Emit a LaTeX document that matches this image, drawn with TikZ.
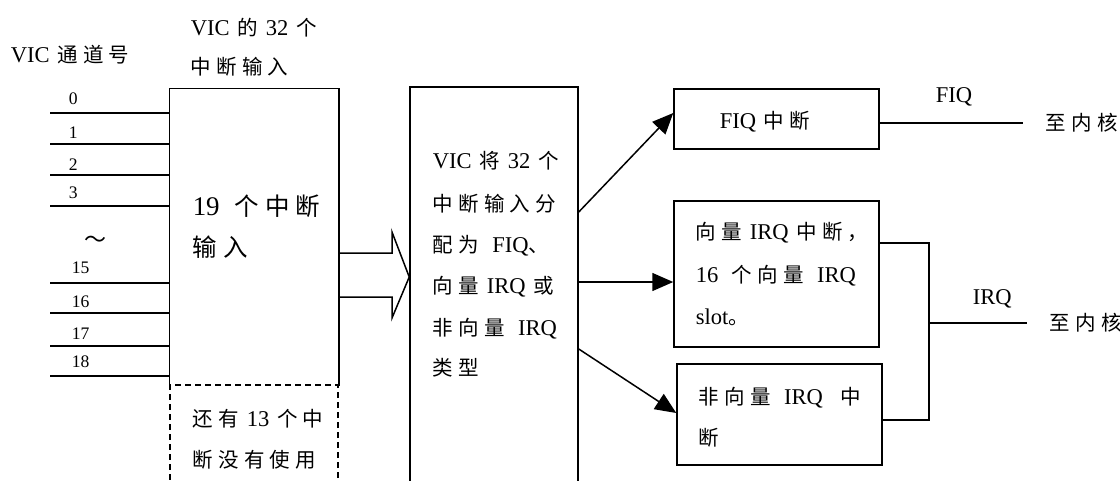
\documentclass[tikz,border=0pt]{standalone}
\usepackage{fontspec}
\setmainfont{Liberation Serif}[Scale=1.1]
\newfontfamily\cjk{Noto Sans CJK SC}[LetterSpace=25]
\newcommand\gp{\hspace{0.35em}}
\usetikzlibrary{arrows.meta,calc}
\begin{document}
\begin{tikzpicture}[x=1pt,y=-1pt, line width=1.5pt,
  lbl/.style={inner sep=0, anchor=west, font=\fontsize{20.5}{24}\selectfont},
  num/.style={inner sep=0, anchor=west, font=\fontsize{16}{20}\selectfont},
  big/.style={inner sep=0, anchor=west, font=\fontsize{24.5}{28}\selectfont},
  arr/.style={-{Triangle[length=21pt,width=18pt]}},
  boxs/.style={inner sep=0, line width=1.5pt}]
\useasboundingbox (0,0) rectangle (1120,480);

% headings
\node[lbl] (h1) at (10,55) {VIC\gp{\cjk 通道号}};
\node[lbl] (h2) at (190,28) {VIC\gp{\cjk 的}\gp 32\gp{\cjk 个}};
\node[lbl] (h3) at (190,67) {\cjk 中断输入};

% input box (solid top/sides) and dashed unused part
\node[boxs, minimum width=168pt, minimum height=296pt] (in) at (254,237) {};
\draw (in.south west) |- (in.north east) -- (in.south east);
\node[boxs, draw, dash pattern=on 6pt off 4pt, minimum width=168pt, minimum height=115pt] (unused) at (254,442.5) {};
\node[big] (b1) at (192,206) {19\hspace{0.55em}{\cjk 个中断}};
\node[big] (b2) at (192,247) {\cjk 输入};
\node[lbl] (u1) at (192,419) {{\cjk 还有}\gp 13\gp{\cjk 个中}};
\node[lbl] (u2) at (192,460) {\cjk 断没有使用};

% input lines
\foreach \y/\n/\ly/\lx in {113/0/99/68, 144/1/133/68, 175/2/165/68, 206/3/193/68,
                           283/15/268/71, 313/16/302/71, 346/17/334/71, 376/18/362/71} {
  \coordinate (s\n) at (50,\y);
  \draw (s\n) -- (s\n -| in.west);
  \node[num] (l\n) at (\lx,\ly) {\n};
}
\node[inner sep=0, font=\fontsize{22}{24}\selectfont] (tilde) at (95,242) {\cjk ～};

% VIC assignment box
\node[boxs, draw, minimum width=168pt, minimum height=413pt] (vic) at (494,293.5) {};
\node[lbl] (v1) at (432,161) {VIC\gp{\cjk 将}\gp 32\gp{\cjk 个}};
\node[lbl] (v2) at (432,204) {\cjk 中断输入分};
\node[lbl] (v3) at (432,246) {{\cjk 配为}\hspace{0.6em}FIQ{\cjk 、}};
\node[lbl] (v4) at (432,287) {{\cjk 向量}\gp IRQ\gp{\cjk 或}};
\node[lbl] (v5) at (432,329) {{\cjk 非向量}\hspace{0.6em}IRQ};
\node[lbl] (v6) at (432,368) {\cjk 类型};

% hollow arrow
\draw (in.east |- 0,253) -- (392,253) -- (392,232) -- (vic.west |- 0,277)
      -- (392,318) -- (392,297) -- (in.east |- 0,297);

% right boxes
\node[boxs, draw, minimum width=205pt, minimum height=60pt] (fiq) at (776.5,119) {};
\node[lbl] (f1) at (719,122) {FIQ\gp{\cjk 中断}};
\node[boxs, draw, minimum width=205pt, minimum height=146pt] (vec) at (776.5,274) {};
\node[lbl] (r1) at (695,233) {{\cjk 向量}\gp IRQ\gp{\cjk 中断，}};
\node[lbl] (r2) at (695,276) {16\hspace{0.6em}{\cjk 个向量}\hspace{0.6em}IRQ};
\node[lbl] (r3) at (695,317) {slot{\cjk 。}};
\node[boxs, draw, minimum width=205pt, minimum height=101pt] (nvec) at (779.5,414.5) {};
\node[lbl] (n1) at (698,398) {{\cjk 非向量}\hspace{0.6em}IRQ\hspace{0.8em}{\cjk 中}};
\node[lbl] (n2) at (698,438) {\cjk 断};

% arrows
\draw[arr] (vic.east |- 0,212) -- (fiq.west |- 0,113);
\draw[arr] (vic.east |- 0,282) -- (vec.west |- 0,282);
\draw[arr] (vic.east |- 0,349) -- (nvec.west |- 0,413);

% outputs
\coordinate (fiqout) at (1023,123);
\draw (fiq.east |- fiqout) -- (fiqout);
\node[lbl] (fl) at (935,97) {FIQ};
\node[lbl] (k1) at (1045,123) {\cjk 至内核};

\coordinate (j) at (929,323);
\draw (vec.east |- 0,243) -- (j |- 0,243) -- (j |- 0,420) -- (nvec.east |- 0,420);
\coordinate (irqout) at (1027,323);
\draw (j) -- (irqout);
\node[lbl] (il) at (972,299) {IRQ};
\node[lbl] (k2) at (1049,323) {\cjk 至内核};
\end{tikzpicture}
\end{document}
